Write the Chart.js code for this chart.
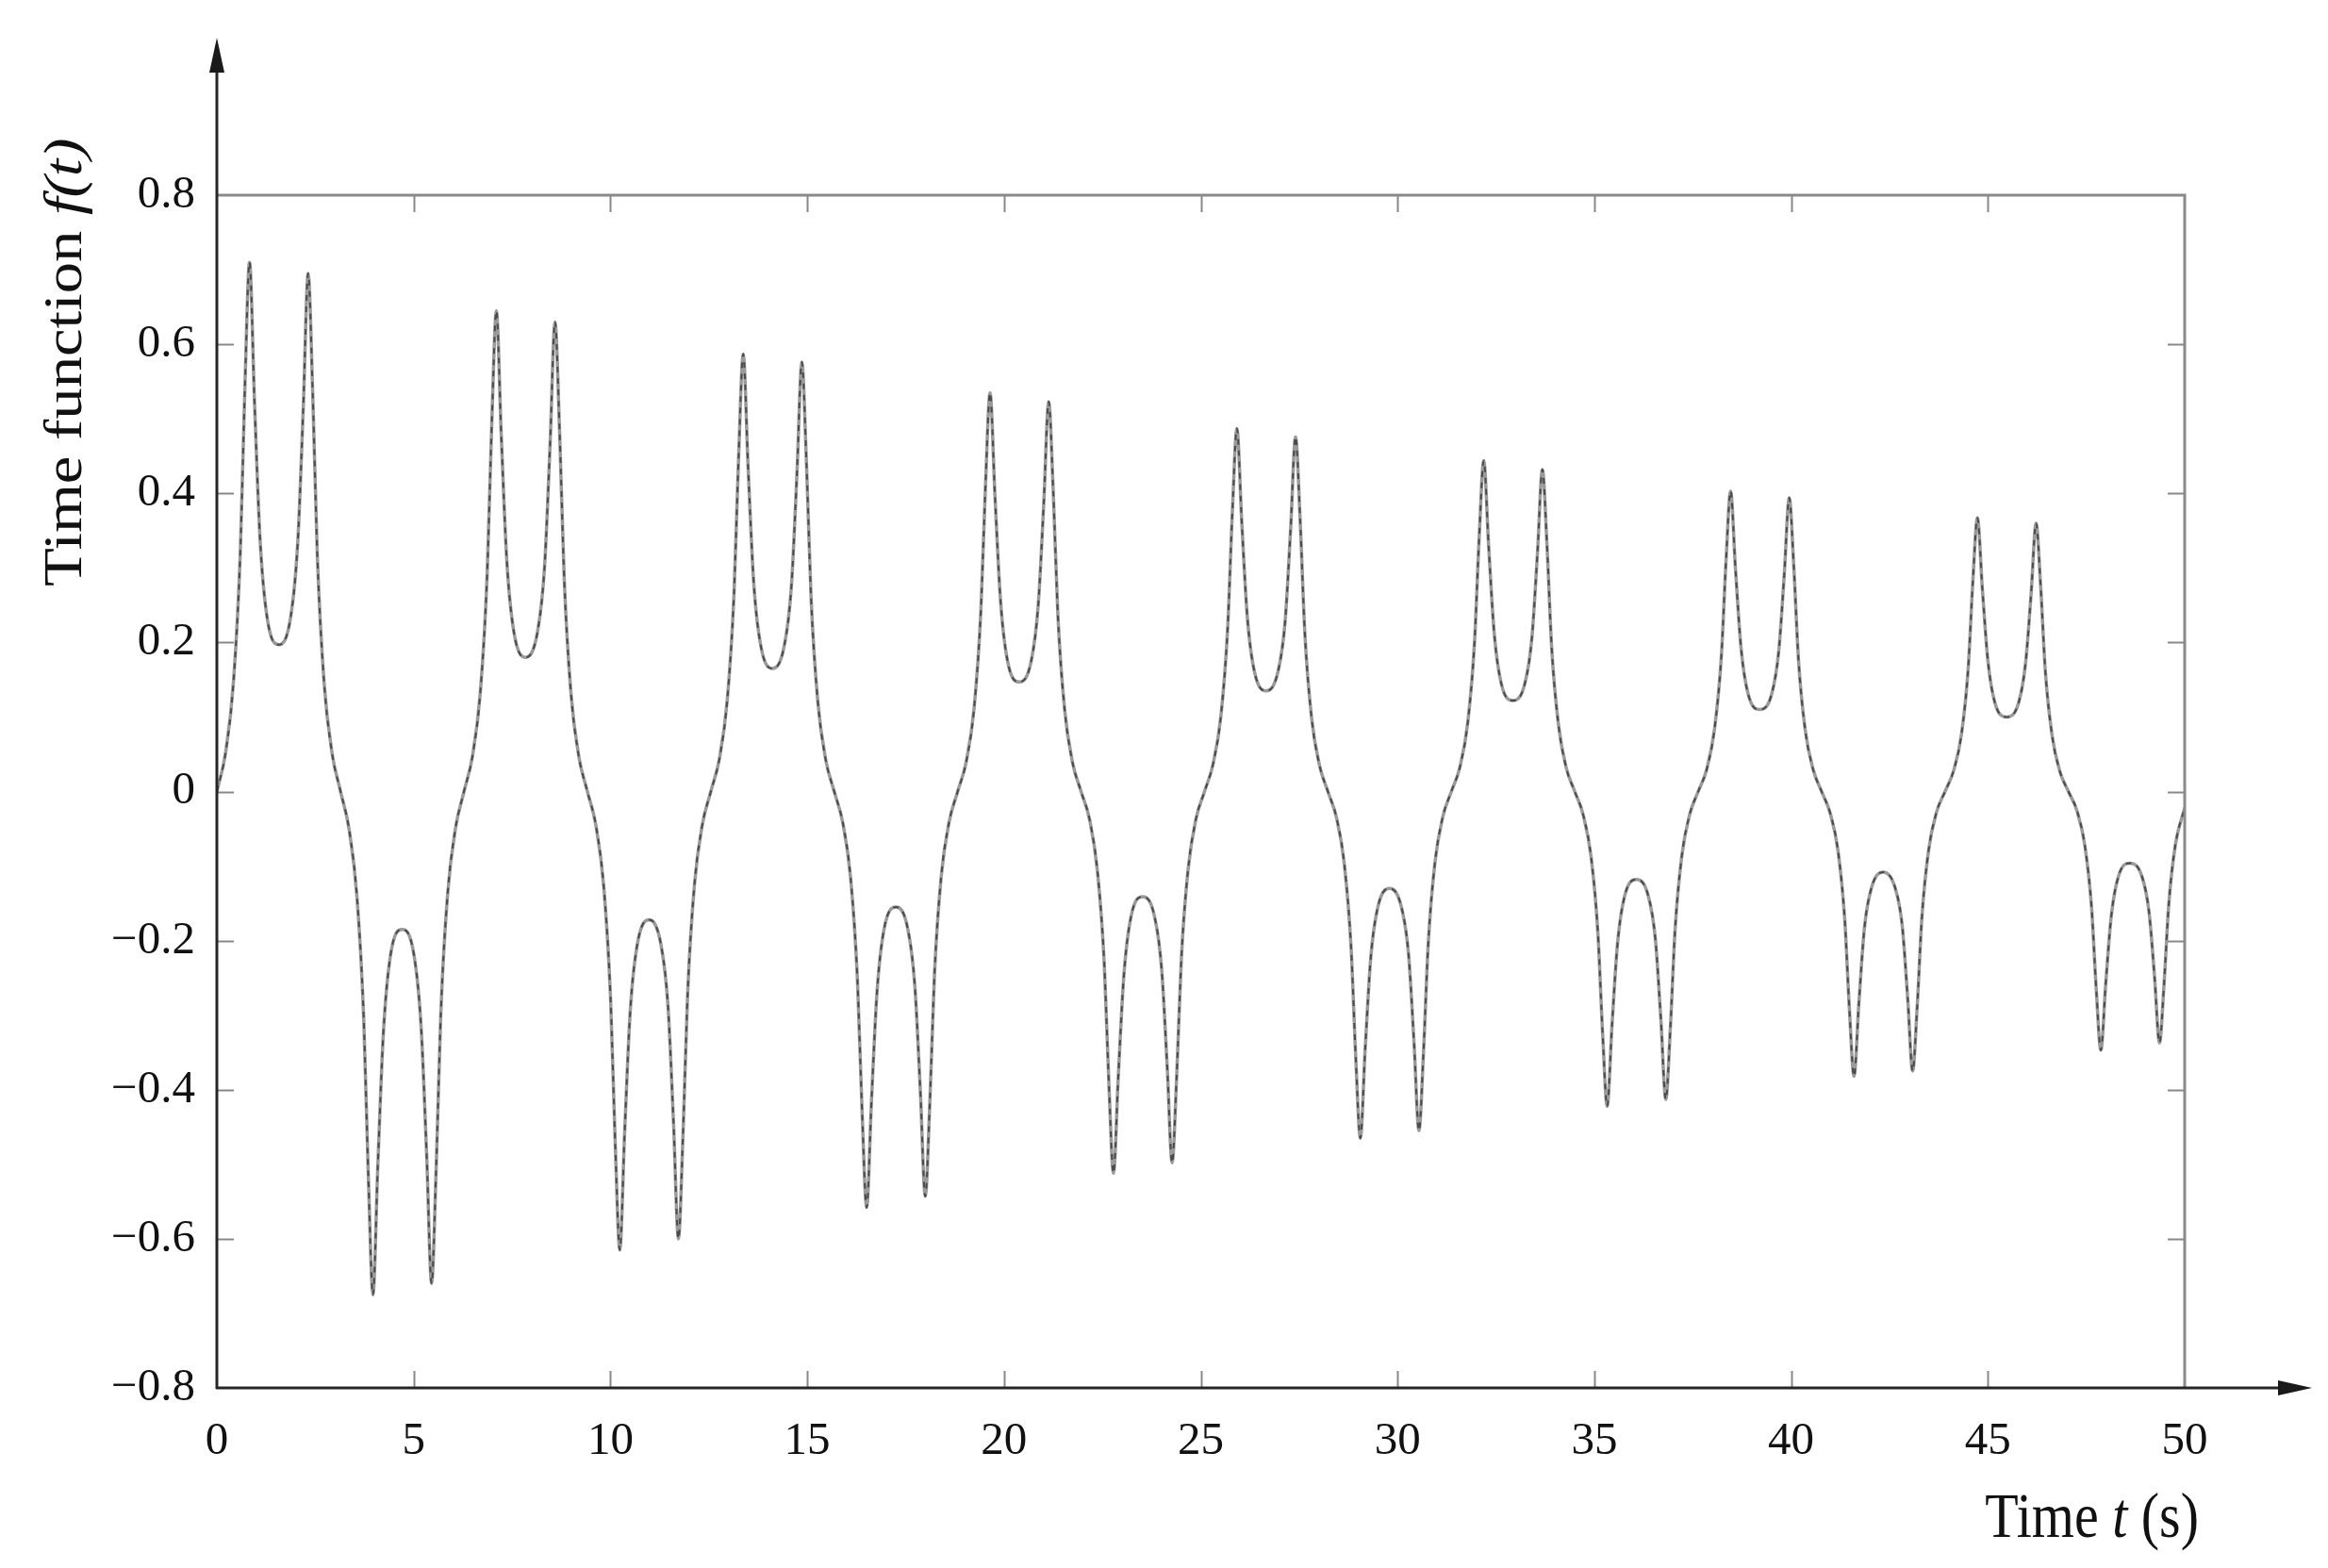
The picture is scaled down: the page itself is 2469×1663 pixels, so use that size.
<!DOCTYPE html>
<html><head><meta charset="utf-8">
<script src="https://cdn.jsdelivr.net/npm/chart.js@4.4.1/dist/chart.umd.min.js"></script>
<style>html,body{margin:0;padding:0;background:#fff;}canvas{display:block;}</style>
</head><body>
<canvas id="c" width="2469" height="1663"></canvas>
<script>
// ---- data ----
const timeSec = [
0, 0.225, 0.425, 0.595, 0.715, 0.83, 0.955, 1.095, 1.275, 1.575, 1.875, 2.055, 2.195, 2.32, 2.435, 2.555, 2.725, 2.925, 3.143,
3.361, 3.561, 3.731, 3.851, 3.966, 4.091, 4.231, 4.411, 4.711, 5.011, 5.191, 5.331, 5.456, 5.571, 5.691, 5.861, 6.061, 6.279,
6.497, 6.697, 6.867, 6.987, 7.102, 7.227, 7.367, 7.547, 7.847, 8.147, 8.327, 8.467, 8.592, 8.707, 8.827, 8.997, 9.197, 9.415,
9.633, 9.833, 10.003, 10.123, 10.238, 10.363, 10.503, 10.683, 10.983, 11.283, 11.463, 11.603, 11.728, 11.843, 11.963, 12.133, 12.333, 12.551,
12.769, 12.969, 13.139, 13.259, 13.374, 13.499, 13.639, 13.819, 14.119, 14.419, 14.599, 14.739, 14.864, 14.979, 15.099, 15.269, 15.469, 15.687,
15.905, 16.105, 16.275, 16.395, 16.51, 16.635, 16.775, 16.955, 17.255, 17.555, 17.735, 17.875, 18.0, 18.115, 18.235, 18.405, 18.605, 18.823,
19.041, 19.241, 19.411, 19.531, 19.646, 19.771, 19.911, 20.091, 20.391, 20.691, 20.871, 21.011, 21.136, 21.251, 21.371, 21.541, 21.741, 21.959,
22.177, 22.377, 22.547, 22.667, 22.782, 22.907, 23.047, 23.227, 23.527, 23.827, 24.007, 24.147, 24.272, 24.387, 24.507, 24.677, 24.877, 25.095,
25.313, 25.513, 25.683, 25.803, 25.918, 26.043, 26.183, 26.363, 26.663, 26.963, 27.143, 27.283, 27.408, 27.523, 27.643, 27.813, 28.013, 28.231,
28.449, 28.649, 28.819, 28.939, 29.054, 29.179, 29.319, 29.499, 29.799, 30.099, 30.279, 30.419, 30.544, 30.659, 30.779, 30.949, 31.149, 31.367,
31.585, 31.785, 31.955, 32.075, 32.19, 32.315, 32.455, 32.635, 32.935, 33.235, 33.415, 33.555, 33.68, 33.795, 33.915, 34.085, 34.285, 34.503,
34.721, 34.921, 35.091, 35.211, 35.326, 35.451, 35.591, 35.771, 36.071, 36.371, 36.551, 36.691, 36.816, 36.931, 37.051, 37.221, 37.421, 37.639,
37.857, 38.057, 38.227, 38.347, 38.462, 38.587, 38.727, 38.907, 39.207, 39.507, 39.687, 39.827, 39.952, 40.067, 40.187, 40.357, 40.557, 40.775,
40.993, 41.193, 41.363, 41.483, 41.598, 41.723, 41.863, 42.043, 42.343, 42.643, 42.823, 42.963, 43.088, 43.203, 43.323, 43.493, 43.693, 43.911,
44.129, 44.329, 44.499, 44.619, 44.734, 44.859, 44.999, 45.179, 45.479, 45.779, 45.959, 46.099, 46.224, 46.339, 46.459, 46.629, 46.829, 47.047,
47.265, 47.465, 47.635, 47.755, 47.87, 47.995, 48.135, 48.315, 48.615, 48.915, 49.095, 49.235, 49.36, 49.475, 49.595, 49.765, 50.0
];
const responseF = [
0, 0.053, 0.149, 0.32, 0.547, 0.71, 0.525, 0.341, 0.234, 0.197, 0.234, 0.334, 0.514, 0.695, 0.535, 0.313, 0.146, 0.052, 0,
-0.051, -0.142, -0.304, -0.52, -0.675, -0.5, -0.324, -0.22, -0.185, -0.22, -0.317, -0.488, -0.66, -0.508, -0.297, -0.139, -0.05, 0,
0.048, 0.135, 0.29, 0.497, 0.645, 0.477, 0.31, 0.214, 0.18, 0.214, 0.302, 0.466, 0.63, 0.485, 0.284, 0.132, 0.047, 0,
-0.046, -0.129, -0.277, -0.474, -0.615, -0.455, -0.295, -0.205, -0.172, -0.205, -0.288, -0.444, -0.6, -0.462, -0.27, -0.126, -0.045, 0,
0.044, 0.123, 0.264, 0.452, 0.587, 0.434, 0.282, 0.196, 0.165, 0.196, 0.276, 0.426, 0.576, 0.444, 0.259, 0.121, 0.043, 0,
-0.042, -0.117, -0.251, -0.43, -0.558, -0.413, -0.268, -0.184, -0.155, -0.184, -0.261, -0.402, -0.543, -0.418, -0.244, -0.114, -0.041, 0,
0.04, 0.112, 0.241, 0.412, 0.535, 0.396, 0.257, 0.175, 0.147, 0.175, 0.251, 0.387, 0.523, 0.403, 0.235, 0.11, 0.039, 0,
-0.038, -0.108, -0.23, -0.394, -0.512, -0.379, -0.246, -0.168, -0.141, -0.168, -0.239, -0.369, -0.498, -0.383, -0.224, -0.105, -0.037, 0,
0.037, 0.102, 0.219, 0.375, 0.487, 0.36, 0.234, 0.161, 0.135, 0.161, 0.228, 0.352, 0.476, 0.367, 0.214, 0.1, 0.036, 0,
-0.035, -0.098, -0.209, -0.358, -0.465, -0.344, -0.223, -0.155, -0.13, -0.155, -0.218, -0.337, -0.455, -0.35, -0.205, -0.096, -0.034, 0,
0.033, 0.093, 0.2, 0.342, 0.444, 0.329, 0.213, 0.145, 0.122, 0.145, 0.207, 0.32, 0.432, 0.333, 0.194, 0.091, 0.032, 0,
-0.032, -0.089, -0.19, -0.325, -0.422, -0.312, -0.203, -0.14, -0.118, -0.14, -0.198, -0.306, -0.413, -0.318, -0.186, -0.087, -0.031, 0,
0.03, 0.085, 0.181, 0.31, 0.403, 0.298, 0.193, 0.131, 0.11, 0.131, 0.189, 0.292, 0.394, 0.303, 0.177, 0.083, 0.03, 0,
-0.029, -0.08, -0.172, -0.294, -0.382, -0.283, -0.183, -0.129, -0.108, -0.129, -0.18, -0.278, -0.375, -0.289, -0.169, -0.079, -0.028, 0,
0.028, 0.077, 0.165, 0.283, 0.367, 0.272, 0.176, 0.119, 0.1, 0.119, 0.173, 0.266, 0.36, 0.277, 0.162, 0.076, 0.027, 0,
-0.026, -0.073, -0.156, -0.267, -0.347, -0.257, -0.167, -0.114, -0.096, -0.114, -0.162, -0.249, -0.337, -0.259, -0.152, -0.071, -0.022
];
const xTickValues = [0, 5, 10, 15, 20, 25, 30, 35, 40, 45, 50];
const yTickValues = [-0.8, -0.6, -0.4, -0.2, 0, 0.2, 0.4, 0.6, 0.8];
const yTickLabels = ['\u22120.8', '\u22120.6', '\u22120.4', '\u22120.2', '0', '0.2', '0.4', '0.6', '0.8'];
const xTitleParts = [['Time ', false], ['t', true], [' (s)', false]];
const yTitleParts = [['Time function ', false], ['f(t)', true]];

// ---- build chart ----
const n = Math.min(timeSec.length, responseF.length);
const points = [];
for (let i = 0; i < n; i++) points.push({ x: timeSec[i], y: responseF[i] });

const SERIF = '"Liberation Serif", "DejaVu Serif", serif';

function seg(ctx, x1, y1, x2, y2) { ctx.beginPath(); ctx.moveTo(x1, y1); ctx.lineTo(x2, y2); ctx.stroke(); }

const decor = {
  id: 'decor',
  afterDraw(chart) {
    const { ctx, chartArea: a, scales: { x, y } } = chart;
    ctx.save();
    // frame (top, right)
    ctx.strokeStyle = '#8a8a8a'; ctx.lineWidth = 3;
    ctx.beginPath(); ctx.moveTo(a.left, a.top); ctx.lineTo(a.right, a.top); ctx.lineTo(a.right, a.bottom); ctx.stroke();
    // inward ticks
    ctx.strokeStyle = '#888'; ctx.lineWidth = 2;
    const TL = 18;
    xTickValues.forEach(v => {
      if (v <= x.min || v >= x.max) return;
      const px = Math.round(x.getPixelForValue(v)) + 0.5;
      seg(ctx, px, a.bottom, px, a.bottom - TL);
      seg(ctx, px, a.top, px, a.top + TL);
    });
    yTickValues.forEach(v => {
      if (v <= y.min || v >= y.max) return;
      const py = Math.round(y.getPixelForValue(v)) + 0.5;
      seg(ctx, a.left, py, a.left + TL, py);
      seg(ctx, a.right, py, a.right - TL, py);
    });
    // axes with arrows
    ctx.strokeStyle = '#262626'; ctx.fillStyle = '#1a1a1a'; ctx.lineWidth = 3;
    seg(ctx, a.left, a.bottom + 1, a.left, 70);
    seg(ctx, a.left - 1, a.bottom, 2425, a.bottom);
    ctx.beginPath(); ctx.moveTo(a.left, 40); ctx.lineTo(a.left - 8, 77); ctx.lineTo(a.left + 8, 77); ctx.closePath(); ctx.fill();
    ctx.beginPath(); ctx.moveTo(2452, a.bottom); ctx.lineTo(2416, a.bottom - 8); ctx.lineTo(2416, a.bottom + 8); ctx.closePath(); ctx.fill();
    // titles
    ctx.fillStyle = '#111'; ctx.textBaseline = 'alphabetic'; ctx.textAlign = 'left';
    const fnt = it => (it ? 'italic ' : '') + '58px ' + SERIF;
    // x title
    let w = 0; xTitleParts.forEach(([s, it]) => { ctx.font = fnt(it); w += ctx.measureText(s).width; });
    ctx.save(); ctx.translate(2332 - w, 1630); ctx.scale(1, 1.18);
    let cx = 0; xTitleParts.forEach(([s, it]) => { ctx.font = fnt(it); ctx.fillText(s, cx, 0); cx += ctx.measureText(s).width; });
    ctx.restore();
    // y title
    ctx.save(); ctx.translate(86, 622); ctx.rotate(-Math.PI / 2); ctx.scale(1.15, 1);
    cx = 0; yTitleParts.forEach(([s, it]) => { ctx.font = fnt(it); ctx.fillText(s, cx, 0); cx += ctx.measureText(s).width; });
    ctx.restore();
    ctx.restore();
  }
};

new Chart(document.getElementById('c'), {
  type: 'line',
  data: {
    datasets: [
      { label: 'approx', data: points, borderColor: '#4a4a4a', borderWidth: 2, borderDash: [6, 6],
        cubicInterpolationMode: 'monotone', pointRadius: 0, fill: false },
      { label: 'exact', data: points, borderColor: '#9a9a9a', borderWidth: 3.5,
        cubicInterpolationMode: 'monotone', pointRadius: 0, fill: false }
    ]
  },
  options: {
    responsive: false, animation: false, devicePixelRatio: 1,
    layout: { padding: { top: 207, right: 152, bottom: 0, left: 0 } },
    plugins: { legend: { display: false }, tooltip: { enabled: false }, title: { display: false } },
    scales: {
      x: {
        type: 'linear', min: 0, max: 50,
        afterFit: s => { s.height = 191; },
        afterBuildTicks: s => { s.ticks = xTickValues.map(v => ({ value: v })); },
        grid: { display: false, drawTicks: false }, border: { display: false },
        ticks: { font: { family: SERIF, size: 49 }, color: '#111', padding: 28, maxRotation: 0,
                 callback: v => String(v) }
      },
      y: {
        type: 'linear', min: -0.8, max: 0.8,
        afterFit: s => { s.width = 230; },
        afterBuildTicks: s => { s.ticks = yTickValues.map(v => ({ value: v })); },
        grid: { display: false, drawTicks: false }, border: { display: false },
        ticks: { font: { family: SERIF, size: 49 }, color: '#111', padding: 23,
                 callback: (v, i) => yTickLabels[i] }
      }
    }
  },
  plugins: [decor]
});
</script>
</body></html>
